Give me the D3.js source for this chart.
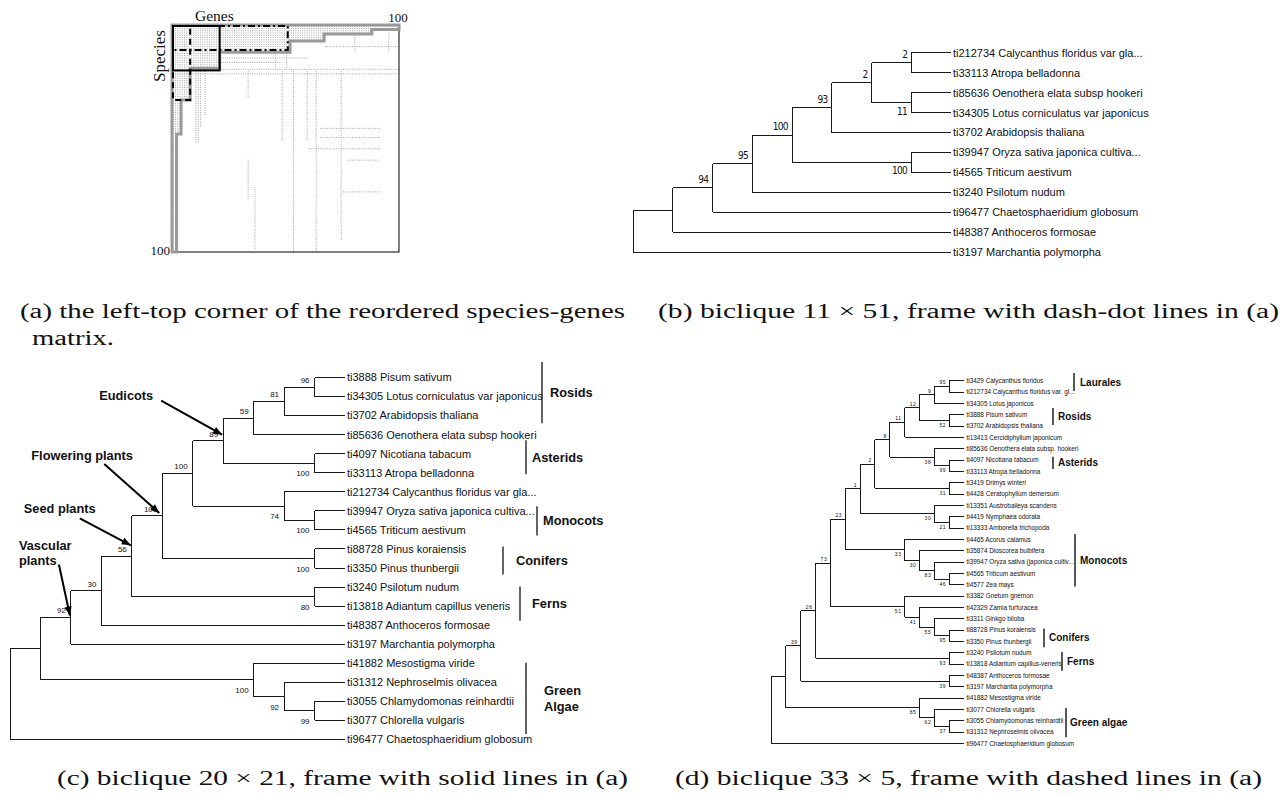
<!DOCTYPE html>
<html>
<head>
<meta charset="utf-8">
<script src="https://cdn.jsdelivr.net/npm/d3@7"></script>
<style>
  body { margin: 0; background: #fff; }
  text { fill: #111; }
  .sans { font-family: "Liberation Sans", Arial, Helvetica, sans-serif; }
  .bold { font-family: "Liberation Sans", Arial, Helvetica, sans-serif; font-weight: bold; }
  .serif { font-family: "Liberation Serif", "Times New Roman", serif; }
</style>
</head>
<body>
<svg id="fig" width="1287" height="797"></svg>
<script>
// ---------------- data ----------------

// (a) reordered species x genes matrix (100 x 100)
const matrixN = 100;
const frontierCols = [0, 2, 4, 8, 21, 52, 67, 88, 100];   // column breaks of the dense staircase
const frontierRows = [100, 48, 33, 19, 12, 7, 4, 2];      // how deep the dense block goes in each band
const sparseCols = [[10, 19, 52], [11, 19, 52], [12, 19, 45], [14, 19, 40], [33, 20, 32], [33, 59, 77],
                    [36, 71, 99], [48, 20, 51], [53, 20, 100], [59, 20, 51], [63, 20, 100], [74, 20, 95],
                    [45, 12, 19], [50, 12, 19], [80, 4, 12], [95, 2, 12]];
const sparseRows = [[14, 21, 60], [16, 21, 48], [19, 21, 100], [21, 0, 100], [45, 65, 92], [49, 65, 92],
                    [54, 60, 92], [59, 77, 91], [73, 75, 92], [9, 67, 100]];
const frameRows = [11, 20, 33];   // bicliques of (b), (c), (d)
const frameCols = [51, 21, 8];

// (b) biclique 11 x 51
const leavesB = ["ti212734 Calycanthus floridus var gla...", "ti33113 Atropa belladonna",
  "ti85636 Oenothera elata subsp hookeri", "ti34305 Lotus corniculatus var japonicus",
  "ti3702 Arabidopsis thaliana", "ti39947 Oryza sativa japonica cultiva...", "ti4565 Triticum aestivum",
  "ti3240 Psilotum nudum", "ti96477 Chaetosphaeridium globosum", "ti48387 Anthoceros formosae",
  "ti3197 Marchantia polymorpha"];
const treeB = "((((((((0,1)2,(2,3)11)2,4)93,(5,6)100)100,7)95,8)94,9),10)";

// (c) biclique 20 x 21
const leavesC = ["ti3888 Pisum sativum", "ti34305 Lotus corniculatus var japonicus", "ti3702 Arabidopsis thaliana",
  "ti85636 Oenothera elata subsp hookeri", "ti4097 Nicotiana tabacum", "ti33113 Atropa belladonna",
  "ti212734 Calycanthus floridus var gla...", "ti39947 Oryza sativa japonica cultiva...", "ti4565 Triticum aestivum",
  "ti88728 Pinus koraiensis", "ti3350 Pinus thunbergii", "ti3240 Psilotum nudum",
  "ti13818 Adiantum capillus veneris", "ti48387 Anthoceros formosae", "ti3197 Marchantia polymorpha",
  "ti41882 Mesostigma viride", "ti31312 Nephroselmis olivacea", "ti3055 Chlamydomonas reinhardtii",
  "ti3077 Chlorella vulgaris", "ti96477 Chaetosphaeridium globosum"];
const treeC = "(((((((((((0,1)96,2)81,3)59,(4,5)100)89,(6,(7,8)100)74)100,(9,10)100)100,(11,12)80)56,13)30,14)92,(15,(16,(17,18)99)92)100),19)";
const cladesC = ["Rosids", "Asterids", "Monocots", "Conifers", "Ferns", "Green|Algae"];
const cladeFromC = [-0.3, 3.6, 6.9, 8.9, 10.9, 14.7];   // in leaf rows
const cladeToC = [2.75, 5.3, 8.35, 10.3, 12.6, 18.25];
const annText = ["Eudicots", "Flowering plants", "Seed plants", "Vascular|plants"];
const annLeaves = [[0, 5], [0, 10], [0, 12], [0, 14]];   // arrow points at their common ancestor

// (d) biclique 33 x 5
const leavesD = ["ti3429 Calycanthus floridus", "ti212734 Calycanthus floridus var. gl...", "ti34305 Lotus japonicus",
  "ti3888 Pisum sativum", "ti3702 Arabidopsis thaliana", "ti13413 Cercidiphyllum japonicum",
  "ti85636 Oenothera elata subsp. hookeri", "ti4097 Nicotiana tabacum", "ti33113 Atropa belladonna",
  "ti3419 Drimys winteri", "ti4428 Ceratophyllum demersum", "ti13351 Austrobaileya scandens",
  "ti4419 Nymphaea odorata", "ti13333 Amborella trichopoda", "ti4465 Acorus calamus",
  "ti35874 Dioscorea bulbifera", "ti39947 Oryza sativa (japonica cultiv...", "ti4565 Triticum aestivum",
  "ti4577 Zea mays", "ti3382 Gnetum gnemon", "ti42329 Zamia furfuracea", "ti3311 Ginkgo biloba",
  "ti88728 Pinus koraiensis", "ti3350 Pinus thunbergii", "ti3240 Psilotum nudum",
  "ti13818 Adiantum capillus-veneris", "ti48387 Anthoceros formosae", "ti3197 Marchantia polymorpha",
  "ti41882 Mesostigma viride", "ti3077 Chlorella vulgaris", "ti3055 Chlamydomonas reinhardtii",
  "ti31312 Nephroselmis olivacea", "ti96477 Chaetosphaeridium globosum"];
const treeD = "(((((((((((((0,1)95,2)9,(3,4)52)12,5)11,(6,(7,8)99)38)8,(9,10)31)2,(11,(12,13)21)30)1,(14,(15,(16,(17,18)46)83)30)33)23,(19,(20,(21,(22,23)95)55)41)51)73,(24,25)93)26,(26,27)39)39,(28,(29,(30,31)37)62)85),32)";
const cladesD = ["Laurales", "Rosids", "Asterids", "Monocots", "Conifers", "Ferns", "Green algae"];
const cladeFromD = [-0.17, 2.82, 7.0, 13.6, 21.7, 23.7, 28.5];
const cladeToD = [1.37, 4.28, 8.04, 18.1, 23.3, 25.3, 31.0];

const captions = ["(a) the left-top corner of the reordered species-genes", "matrix.",
  "(b) biclique 11 \u00d7 51, frame with dash-dot lines in (a)",
  "(c) biclique 20 \u00d7 21, frame with solid lines in (a)",
  "(d) biclique 33 \u00d7 5, frame with dashed lines in (a)"];

// ---------------- drawing ----------------
const svg = d3.select("#fig");
svg.append("rect").attr("width", 1287).attr("height", 797).attr("fill", "#fff");

svg.append("defs").append("marker")
    .attr("id", "ah").attr("viewBox", "0 0 10 10")
    .attr("refX", 10).attr("refY", 5)
    .attr("markerWidth", 10).attr("markerHeight", 9)
    .attr("markerUnits", "userSpaceOnUse").attr("orient", "auto")
  .append("path").attr("d", "M0,1 L10,5 L0,9 z").attr("fill", "#000");

function parseNewick(s, names) {
    let i = 0;
    function read() {
        const node = {};
        if (s[i] === "(") {
            node.children = [];
            do { i++; node.children.push(read()); } while (s[i] === ",");
            i++;
        }
        let tok = "";
        while (i < s.length && ",()".indexOf(s[i]) < 0) tok += s[i++];
        if (node.children) node.support = tok;
        else node.name = names[+tok];
        return node;
    }
    return read();
}

function drawTree(p) {
    const root = d3.hierarchy(parseNewick(p.tree, p.leaves));
    d3.cluster().size([p.y1 - p.y0, p.x1 - p.x0]).separation(() => 1)(root);
    const X = d => p.x0 + d.y, Y = d => p.y0 + d.x;

    const g = svg.append("g").attr("stroke", "#1a1a1a").attr("stroke-width", p.lw)
        .attr("shape-rendering", "crispEdges");
    g.selectAll("line.h")
        .data(root.descendants().filter(d => d.parent))
        .join("line").attr("class", "h")
        .attr("x1", d => X(d.parent)).attr("x2", X)
        .attr("y1", Y).attr("y2", Y);
    g.selectAll("line.v")
        .data(root.descendants().filter(d => d.children))
        .join("line").attr("class", "v")
        .attr("x1", X).attr("x2", X)
        .attr("y1", d => Y(d.children[0]))
        .attr("y2", d => Y(d.children[d.children.length - 1]));

    svg.append("g").selectAll("text")
        .data(root.leaves())
        .join("text").attr("class", "sans")
        .attr("x", d => X(d) + p.gap).attr("y", Y).attr("dy", "0.35em")
        .style("font-size", p.leafSize + "px")
        .text(d => d.data.name);

    // bootstrap values: above the branch for the upper child, below for the lower one
    svg.append("g").selectAll("text")
        .data(root.descendants().filter(d => d.parent && d.data.support))
        .join("text")
        .attr("x", d => X(d) - p.supDx)
        .attr("y", d => d.parent.children[0] === d ? Y(d) - p.supUp : Y(d) + p.supDown)
        .attr("text-anchor", "end")
        .style("font-family", p.supFont)
        .style("font-size", p.supSize + "px")
        .style("letter-spacing", p.supSpacing + "px")
        .text(d => d.data.support);

    const rowY = i => p.y0 + i * (p.y1 - p.y0) / (p.leaves.length - 1);
    return { root, X, Y, rowY };
}

function drawClades(tr, names, from, to, barX, labelGap, size, lineH, lw) {
    names.forEach((name, i) => {
        const ya = tr.rowY(from[i]), yb = tr.rowY(to[i]);
        svg.append("line")
            .attr("x1", barX[i]).attr("x2", barX[i]).attr("y1", ya).attr("y2", yb)
            .attr("stroke", "#111").attr("stroke-width", lw);
        const lines = name.split("|");
        const t = svg.append("text").attr("class", "bold").style("font-size", size + "px")
            .attr("x", barX[i] + labelGap[i])
            .attr("y", (ya + yb) / 2 - (lines.length - 1) * lineH / 2)
            .attr("dy", "0.35em");
        lines.forEach((l, k) => t.append("tspan")
            .attr("x", barX[i] + labelGap[i]).attr("dy", k ? lineH : "0.35em").text(l));
    });
}

// ---- (a) matrix ----
const mx = d3.scaleLinear().domain([0, matrixN]).range([172, 399]);
const my = d3.scaleLinear().domain([0, matrixN]).range([25, 252]);

const cells = [];
frontierRows.forEach((depth, i) => {
    for (let c = frontierCols[i]; c < frontierCols[i + 1]; c++)
        for (let r = 0; r < depth; r++) cells.push([c, r]);
});
sparseCols.forEach(([c, r0, r1]) => { for (let r = r0; r < r1; r++) cells.push([c, r]); });
sparseRows.forEach(([r, c0, c1]) => { for (let c = c0; c < c1; c++) cells.push([c, r]); });

svg.append("g").selectAll("rect")
    .data(cells)
    .join("rect")
    .attr("x", d => mx(d[0]) + 0.7).attr("y", d => my(d[1]) + 0.7)
    .attr("width", 1).attr("height", 1)
    .attr("fill", "#a3a3a3");

svg.append("rect")
    .attr("x", mx(0)).attr("y", my(0))
    .attr("width", mx(matrixN) - mx(0)).attr("height", my(matrixN) - my(0))
    .attr("fill", "none").attr("stroke", "#000").attr("stroke-width", 1);

const stair = [[0, 0], [matrixN, 0]];
for (let i = frontierRows.length - 1; i >= 0; i--) {
    stair.push([frontierCols[i + 1], frontierRows[i]]);
    stair.push([frontierCols[i], frontierRows[i]]);
}
svg.append("path")
    .attr("d", d3.line().x(d => mx(d[0])).y(d => my(d[1]))(stair) + "Z")
    .attr("fill", "none").attr("stroke", "#9a9a9a").attr("stroke-width", 3);

const frameDash = ["7,3,2,3", null, "6,4"];
frameRows.forEach((rows, i) => {
    svg.append("rect")
        .attr("x", mx(0) + 1).attr("y", my(0) + 1)
        .attr("width", mx(frameCols[i]) - mx(0) - 1).attr("height", my(rows) - my(0) - 1)
        .attr("fill", "none").attr("stroke", "#000").attr("stroke-width", 2)
        .attr("stroke-dasharray", frameDash[i]);
});

svg.append("text").attr("class", "serif").attr("x", 195).attr("y", 21)
    .style("font-size", "15.5px").text("Genes");
svg.append("text").attr("class", "serif")
    .attr("transform", "translate(165,56) rotate(-90)").attr("text-anchor", "middle")
    .style("font-size", "17px").text("Species");
svg.append("text").attr("class", "serif").attr("x", mx(matrixN) - 1).attr("y", 22)
    .attr("text-anchor", "middle").style("font-size", "13px").text(matrixN);
svg.append("text").attr("class", "serif").attr("x", mx(0) - 2).attr("y", 255)
    .attr("text-anchor", "end").style("font-size", "13px").text(matrixN);

// ---- (b) ----
drawTree({ tree: treeB, leaves: leavesB, x0: 633, x1: 951, y0: 43, y1: 262, lw: 1,
    gap: 2, leafSize: 11, supDx: 4, supUp: 5, supDown: 12, supSize: 10, supSpacing: -0.6,
    supFont: "'Liberation Sans Narrow', 'DejaVu Sans Condensed', Arial, sans-serif" });

// ---- (c) ----
const trC = drawTree({ tree: treeC, leaves: leavesC, x0: 10, x1: 345, y0: 368, y1: 749, lw: 1,
    gap: 2, leafSize: 11, supDx: 5, supUp: 4, supDown: 13, supSize: 8, supSpacing: 0,
    supFont: "'Liberation Sans', Arial, sans-serif" });
drawClades(trC, cladesC, cladeFromC, cladeToC,
    [542, 526, 537, 503, 520, 526], [8, 6, 6, 13, 12, 18], 12.8, 16, 1.3);

const annLayout = [
    { tx: -124, ty: -41, ax: -62, ay: -40, px: -1, py: -6 },
    { tx: -131, ty: -56, ax: -58, ay: -52, px: -3, py: -3 },
    { tx: -108, ty: -43, ax: -52, ay: -38, px: -1, py: -11 },
    { tx: -52, ty: -67, ax: -12, ay: -53, px: -1, py: -2 }
];
const leafNodesC = trC.root.leaves();
annText.forEach((txt, i) => {
    const a = leafNodesC[annLeaves[i][0]], b = leafNodesC[annLeaves[i][1]];
    const anc = new Set(a.ancestors());
    const node = b.ancestors().find(n => anc.has(n));
    const nx = trC.X(node), ny = trC.Y(node), L = annLayout[i];
    const t = svg.append("text").attr("class", "bold").style("font-size", "12.8px");
    txt.split("|").forEach((l, k) => t.append("tspan")
        .attr("x", nx + L.tx).attr("y", ny + L.ty + k * 15).text(l));
    svg.append("line")
        .attr("x1", nx + L.ax).attr("y1", ny + L.ay)
        .attr("x2", nx + L.px).attr("y2", ny + L.py)
        .attr("stroke", "#000").attr("stroke-width", 2)
        .attr("marker-end", "url(#ah)");
});

// ---- (d) ----
const trD = drawTree({ tree: treeD, leaves: leavesD, x0: 771, x1: 964, y0: 375, y1: 749, lw: 1,
    gap: 2.5, leafSize: 6.4, supDx: 3, supUp: 2, supDown: 6.5, supSize: 5, supSpacing: 0.6,
    supFont: "'Liberation Sans', Arial, sans-serif" });
drawClades(trD, cladesD, cladeFromD, cladeToD,
    [1074, 1053, 1053, 1075, 1044, 1062, 1066], [6, 5, 5, 5, 5, 5, 4], 10, 12, 1.4);

// ---- captions ----
const capX = [20, 32, 658, 57, 675];
const capY = [318, 345, 318, 785, 785];
const capW = [605, 82, 621, 571, 587];
captions.forEach((c, i) => {
    svg.append("text").attr("class", "serif")
        .attr("x", capX[i]).attr("y", capY[i])
        .attr("textLength", capW[i]).attr("lengthAdjust", "spacingAndGlyphs")
        .style("font-size", "20px").text(c);
});
</script>
</body>
</html>
